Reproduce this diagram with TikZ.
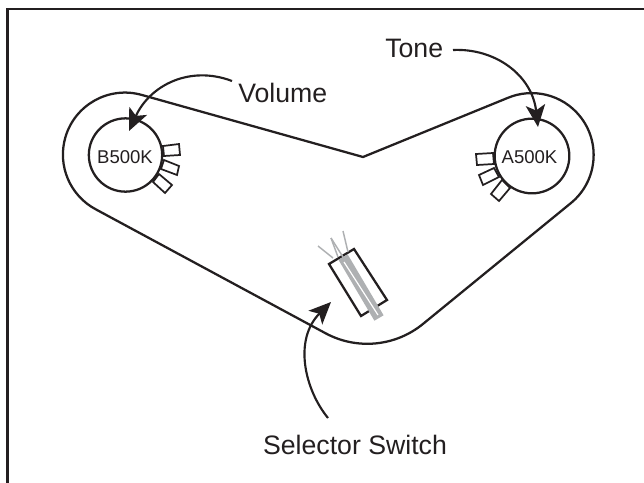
\documentclass[tikz,border=0pt]{standalone}
\usepackage{fontspec}
\setmainfont{Liberation Sans}
\usetikzlibrary{arrows.meta}
\definecolor{ink}{HTML}{231F20}
\definecolor{wire}{HTML}{AEB0B2}
\tikzset{x=0.75pt,y=-0.75pt,
 ol/.style={draw=ink,line width=1.7pt,line join=miter},
 lug/.style={draw=ink,line width=1.3pt,fill=white},
 wireline/.style={draw=wire,line width=1.1pt},
 pointer/.style={draw=ink,line width=1.6pt,-{Stealth[length=16.5pt,width=14.5pt,inset=4pt]}},
 lab/.style={text=ink,font=\fontsize{20}{24}\selectfont,inner sep=0pt},
 potlab/.style={text=ink,font=\fontsize{13.9}{16}\selectfont,inner sep=0pt}}
\begin{document}
\begin{tikzpicture}
\useasboundingbox (0,0) rectangle (644,483);
\draw[draw=ink,line width=1.9pt] (7.7,483) -- (7.7,9.2) -- (644,9.2);
\draw[ol] (142,95) arc[start angle=-74,end angle=-242,radius=62] -- (326,333.5)
  arc[start angle=118,end angle=50.6,radius=88] -- (571,203)
  arc[start angle=50.6,end angle=-113,radius=62] -- (363,157) -- cycle;
% lugs left
\draw[lug] (163,146) -- (179,144) -- (180,155) -- (164,156) -- cycle;
\draw[lug] (164,160) -- (179,166) -- (177,175) -- (161,169) -- cycle;
\draw[lug] (159,174) -- (172,185) -- (165,193) -- (153,182) -- cycle;
% lugs right
\draw[lug] (476,154) -- (493,153) -- (494,164) -- (477,165) -- cycle;
\draw[lug] (479,175) -- (494,168) -- (499,177) -- (483,185) -- cycle;
\draw[lug] (491,194) -- (502,180) -- (510,188) -- (499,201) -- cycle;
\node[ol,circle,minimum size=55pt,inner sep=0pt,fill=white] (volpot) at (125.5,155) {};
\node[ol,circle,minimum size=56pt,inner sep=0pt,fill=white] (tonepot) at (532,156) {};
\node[potlab,anchor=base] at (125,163) {B500K};
\node[potlab,anchor=base] at (529.5,163) {A500K};
% switch
\draw[draw=ink,line width=1.7pt,fill=white] (329,264) -- (354,249) -- (387,300) -- (361,316) -- cycle;
\draw[wireline] (318,246) -- (333,258);
\draw[wireline] (331,238) -- (343,257);
\draw[wireline] (331,238) -- (338,257);
\draw[wireline] (343,231) -- (348,252);
\draw[draw=wire,line width=8pt] (343,257) -- (379,318);
\draw[draw=white,line width=0.9pt] (344,262) -- (378,315);
% labels
\node[lab,anchor=base west] (vol) at (238,102.5) {Volume};
\node[lab,anchor=base west] (tone) at (385,57) {Tone};
\node[lab,anchor=base] (sel) at (355,454) {Selector Switch};
\coordinate (voltail) at (232,81);
\coordinate (tonetail) at (453,50);
\coordinate (seltail) at (328,418);
\path[pointer] (voltail) .. controls (190,65) and (150,85) .. (129,131);
\path[pointer] (tonetail) .. controls (495,48) and (532,75) .. (538,127);
\path[pointer] (seltail) .. controls (305,390) and (293,340) .. (331,302);
\end{tikzpicture}
\end{document}
